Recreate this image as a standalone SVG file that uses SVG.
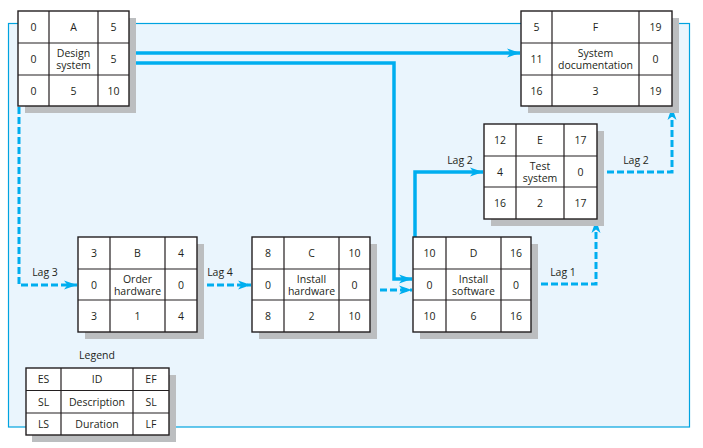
<svg xmlns="http://www.w3.org/2000/svg" width="703" height="448" viewBox="0 0 703 448">
<style>
text{font-family:"Open Sans","Liberation Sans",sans-serif;font-size:10.5px;fill:#231f20;text-anchor:middle;dominant-baseline:central}
.shadow{fill:#bcbec0}
.box{fill:#fff;stroke:#231f20;stroke-width:1.4}
.grid{stroke:#231f20;stroke-width:1.2;fill:none}
.solid{fill:none;stroke:#00aeef;stroke-width:3.5}
.dash{fill:none;stroke:#00aeef;stroke-width:3;stroke-dasharray:7,3}
</style>
<defs>
<marker id="ah" markerUnits="userSpaceOnUse" markerWidth="14" markerHeight="10" refX="13" refY="5" orient="auto">
<path d="M0,0.5 L13,5 L0,9.5 L3.5,5 Z" fill="#00aeef"/>
</marker>
</defs>
<rect x="8.5" y="23.5" width="681" height="403.5" fill="#eaf5fd" stroke="#00a3e0" stroke-width="1.2"/>

<g id="connectors">
<polyline class="solid" points="129,53 520,53" marker-end="url(#ah)"/>
<polyline class="solid" points="129,63 394,63 394,279 412,279" marker-end="url(#ah)"/>
<polyline class="solid" points="415,237 415,172 483,172" marker-end="url(#ah)"/>
<polyline class="dash" points="597,172 672,172 672,107" marker-end="url(#ah)"/>
<polyline class="dash" points="19,107 19,285 77,285" marker-end="url(#ah)"/>
<polyline class="dash" points="197,285 251,285" marker-end="url(#ah)"/>
<polyline class="dash" points="370,290 412,290" marker-end="url(#ah)"/>
<polyline class="dash" points="531,284 596,284 596,220" marker-end="url(#ah)"/>
<text x="460" y="160">Lag 2</text>
<text x="636" y="160">Lag 2</text>
<text x="45" y="272">Lag 3</text>
<text x="220" y="272">Lag 4</text>
<text x="563" y="272">Lag 1</text>
</g>

<g id="nodeA">
<rect class="shadow" x="25" y="18" width="111" height="95"/>
<rect class="box" x="18" y="11" width="111" height="95"/>
<path class="grid" d="M49,11V106M98,11V106M18,43H129M18,75H129"/>
<text x="33.5" y="27">0</text><text x="73.5" y="27">A</text><text x="113.5" y="27">5</text>
<text x="33.5" y="59">0</text><text><tspan x="73.5" y="53">Design</tspan><tspan x="73.5" dy="12">system</tspan></text><text x="113.5" y="59">5</text>
<text x="33.5" y="90.5">0</text><text x="73.5" y="90.5">5</text><text x="113.5" y="90.5">10</text>
</g>

<g id="nodeF">
<rect class="shadow" x="528" y="18" width="151" height="95"/>
<rect class="box" x="521" y="11" width="151" height="95"/>
<path class="grid" d="M552,11V106M639,11V106M521,43H672M521,75H672"/>
<text x="536.5" y="27">5</text><text x="595.5" y="27">F</text><text x="655.5" y="27">19</text>
<text x="536.5" y="59">11</text><text><tspan x="595.5" y="53">System</tspan><tspan x="595.5" dy="12">documentation</tspan></text><text x="655.5" y="59">0</text>
<text x="536.5" y="90.5">16</text><text x="595.5" y="90.5">3</text><text x="655.5" y="90.5">19</text>
</g>

<g id="nodeE">
<rect class="shadow" x="491" y="131" width="113" height="95"/>
<rect class="box" x="484" y="124" width="113" height="95"/>
<path class="grid" d="M516,124V219M564,124V219M484,156H597M484,187H597"/>
<text x="500" y="140">12</text><text x="540" y="140">E</text><text x="580.5" y="140">17</text>
<text x="500" y="171.5">4</text><text><tspan x="540" y="165.5">Test</tspan><tspan x="540" dy="12">system</tspan></text><text x="580.5" y="171.5">0</text>
<text x="500" y="203">16</text><text x="540" y="203">2</text><text x="580.5" y="203">17</text>
</g>

<g id="nodeB">
<rect class="shadow" x="85" y="244" width="119" height="95"/>
<rect class="box" x="78" y="237" width="119" height="95"/>
<path class="grid" d="M110,237V332M165,237V332M78,269H197M78,300H197"/>
<text x="94" y="253">3</text><text x="137.5" y="253">B</text><text x="181" y="253">4</text>
<text x="94" y="284.5">0</text><text><tspan x="137.5" y="278.5">Order</tspan><tspan x="137.5" dy="12">hardware</tspan></text><text x="181" y="284.5">0</text>
<text x="94" y="316">3</text><text x="137.5" y="316">1</text><text x="181" y="316">4</text>
</g>

<g id="nodeC">
<rect class="shadow" x="259" y="244" width="118" height="95"/>
<rect class="box" x="252" y="237" width="118" height="95"/>
<path class="grid" d="M284,237V332M339,237V332M252,269H370M252,300H370"/>
<text x="268" y="253">8</text><text x="311.5" y="253">C</text><text x="354.5" y="253">10</text>
<text x="268" y="284.5">0</text><text><tspan x="311.5" y="278.5">Install</tspan><tspan x="311.5" dy="12">hardware</tspan></text><text x="354.5" y="284.5">0</text>
<text x="268" y="316">8</text><text x="311.5" y="316">2</text><text x="354.5" y="316">10</text>
</g>

<g id="nodeD">
<rect class="shadow" x="420" y="244" width="118" height="95"/>
<rect class="box" x="413" y="237" width="118" height="95"/>
<path class="grid" d="M446,237V332M501,237V332M413,269H531M413,300H531"/>
<text x="429.5" y="253">10</text><text x="473.5" y="253">D</text><text x="516" y="253">16</text>
<text x="429.5" y="284.5">0</text><text><tspan x="473.5" y="278.5">Install</tspan><tspan x="473.5" dy="12">software</tspan></text><text x="516" y="284.5">0</text>
<text x="429.5" y="316">10</text><text x="473.5" y="316">6</text><text x="516" y="316">16</text>
</g>

<g id="legend">
<text x="97" y="355">Legend</text>
<rect class="shadow" x="32" y="375" width="144" height="67"/>
<rect class="box" x="26" y="368" width="143" height="67"/>
<path class="grid" d="M61,368V435M133,368V435M26,390.5H169M26,413H169"/>
<text x="43.5" y="379">ES</text><text x="97" y="379">ID</text><text x="151" y="379">EF</text>
<text x="43.5" y="401.5">SL</text><text x="97" y="401.5">Description</text><text x="151" y="401.5">SL</text>
<text x="43.5" y="424">LS</text><text x="97" y="424">Duration</text><text x="151" y="424">LF</text>
</g>
</svg>
